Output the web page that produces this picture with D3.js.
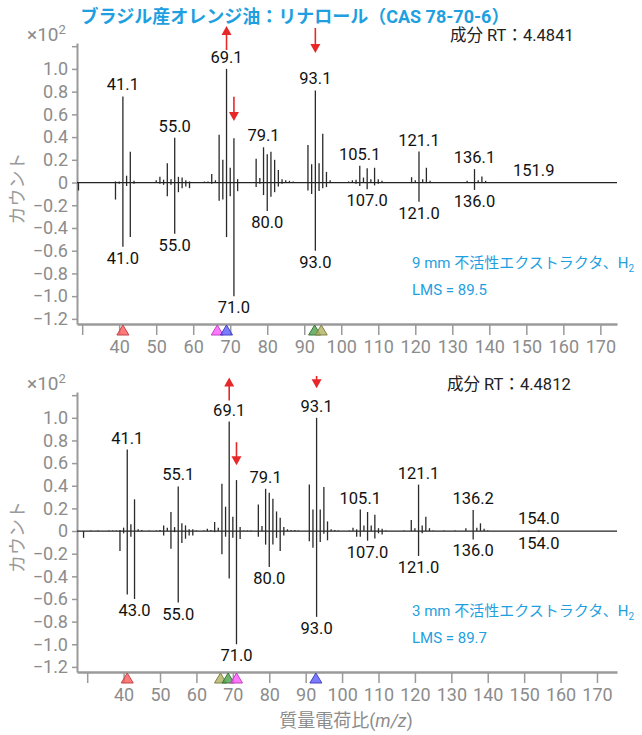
<!doctype html>
<html lang="ja">
<head>
<meta charset="utf-8">
<title>リナロール マススペクトル</title>
<script src="https://d3js.org/d3.v7.min.js"></script>
<style>
  body { margin: 0; background: #fff; }
  svg { display: block; font-family: Roboto, "Noto Sans CJK JP", sans-serif; }
</style>
</head>
<body>
<script>
// ---- data (×10^2 counts) ----
// top: 9 mm extractor
var topMz   = [29,31,32,36,38,39,40,41,42,43,44,45,47,49,50,51,52,53,54,55,56,57,58,59,60,61,62,63,64,65,66,67,68,69,70,71,72,73,74,75,77,78,79,80,81,82,83,84,85,86,87,88,89,90,91,92,93,94,95,96,97,98,99,101,102,103,104,105,106,107,108,109,110,111,112,113,115,117,119,120,121,122,123,124,125,127,131,134,135,136,137,138,139,140,152];
var topUp   = [0,0.005,0.004,0.004,0.005,0.01,0.01,0.758,0.06,0.27,0.015,0.005,0.004,0.005,0.02,0.05,0.025,0.17,0.03,0.394,0.05,0.045,0.02,0.01,0.005,0.004,0.004,0.01,0.01,0.076,0.02,0.42,0.2,1.0,0.13,0.39,0.03,0.005,0.004,0.005,0.21,0.04,0.31,0.25,0.27,0.2,0.11,0.03,0.02,0.015,0.01,0.005,0.005,0.005,0.33,0.16,0.81,0.17,0.43,0.094,0.02,0.005,0.004,0.004,0.01,0.02,0.025,0.147,0.044,0.125,0.03,0.13,0.03,0.015,0.005,0.004,0.004,0.005,0.047,0.02,0.273,0.03,0.13,0.015,0.005,0.004,0.005,0.015,0.005,0.118,0.02,0.053,0.015,0.005,0.005];
var topDown = [-0.07,0,0,0,0,-0.15,-0.01,-0.565,-0.03,-0.48,-0.01,0,0,0,0,-0.01,-0.02,-0.12,-0.02,-0.45,-0.085,-0.05,-0.035,-0.05,0,0,0,0,0,-0.01,0,-0.16,-0.15,-0.48,-0.12,-1.0,-0.076,0,0,0,-0.04,-0.01,-0.11,-0.25,-0.125,-0.085,-0.035,-0.01,0,0,0,0,0,0,-0.07,-0.1,-0.6,-0.074,-0.05,-0.04,0,0,0,0,0,0,-0.01,-0.03,0,-0.06,0,-0.025,-0.01,0,0,0,0,0,-0.005,0,-0.17,0,-0.005,0,0,0,0,0,0,-0.065,0,0,0,0,0];
var topUpLabels   = [[41,"41.1"],[55,"55.0"],[69,"69.1"],[79,"79.1"],[93,"93.1"],[105,"105.1"],[121,"121.1"],[136,"136.1"],[152,"151.9"]];
var topDownLabels = [[41,"41.0"],[55,"55.0"],[71,"71.0"],[80,"80.0"],[93,"93.0"],[107,"107.0"],[121,"121.0"],[136,"136.0"]];
var topMarkMz     = [41, 66.5, 69, 92.8, 94.6];
var topMarkColors = ["#ff5a5a","#ff55ff","#5a5aff","#4aa04a","#b0b060"];
var topArrows     = [[69,"up",1.166,1.378],[93,"down",1.36,1.14],[71,"down",0.754,0.542]];

// bottom: 3 mm extractor
var botMz   = [29,31,33,36,37,38,39,40,41,42,43,44,45,47,49,50,51,52,53,54,55,56,57,58,59,60,62,63,64,65,66,67,68,69,70,71,72,73,74,75,77,78,79,80,81,82,83,84,85,86,87,88,91,92,93,94,95,96,97,98,99,102,103,104,105,106,107,108,109,110,111,112,117,119,120,121,122,123,124,125,128,131,134,136,137,138,139,140,154];
var botUp   = [0,0.005,0.004,0.004,0.005,0.005,0.01,0.03,0.72,0.06,0.28,0.015,0.01,0.004,0.005,0.01,0.05,0.03,0.168,0.035,0.394,0.068,0.05,0.015,0.015,0.005,0.005,0.02,0.01,0.08,0.03,0.417,0.215,0.967,0.126,0.45,0.035,0.005,0.005,0.005,0.235,0.044,0.373,0.338,0.285,0.173,0.118,0.035,0.015,0.01,0.01,0.005,0.41,0.19,1.0,0.19,0.388,0.085,0.015,0.01,0.005,0.005,0.03,0.015,0.19,0.05,0.168,0.05,0.144,0.025,0.02,0.005,0.005,0.097,0.025,0.41,0.05,0.126,0.025,0.005,0.004,0.004,0.025,0.185,0.03,0.068,0.02,0.005,0.005];
var botDown = [-0.06,0,0,0,0,0,-0.176,-0.02,-0.56,-0.05,-0.6,0,0,0,0,0,-0.04,0,-0.156,-0.01,-0.632,-0.106,-0.068,-0.04,-0.04,0,0,0,0,-0.01,0,-0.206,-0.05,-0.42,-0.06,-1.0,-0.07,0,0,0,-0.05,0,-0.12,-0.317,-0.12,-0.06,-0.176,-0.04,0,0,0,0,-0.09,-0.147,-0.758,-0.097,-0.024,-0.082,0,0,0,0,0,-0.05,-0.05,0,-0.085,0,-0.065,-0.02,-0.03,0,0,0,0,-0.22,-0.02,0,0,0,0,0,0,-0.074,0,0,0,0,-0.005];
var botUpLabels   = [[41,"41.1"],[55,"55.1"],[69,"69.1"],[79,"79.1"],[93,"93.1"],[105,"105.1"],[121,"121.1"],[136,"136.2"],[154,"154.0"]];
var botDownLabels = [[43,"43.0"],[55,"55.0"],[71,"71.0"],[80,"80.0"],[93,"93.0"],[107,"107.0"],[121,"121.0"],[136,"136.0"],[154,"154.0"]];
var botMarkMz     = [41, 66.6, 68.7, 71, 92.8];
var botMarkColors = ["#ff5a5a","#b0b060","#4aa04a","#ff55ff","#5a5aff"];
var botArrows     = [[69,"up",1.153,1.355],[93,"down",1.37,1.262],[71,"down",0.785,0.58]];

var xTicks = [30,40,50,60,70,80,90,100,110,120,130,140,150,160,170];
var yTicks = [-1.2,-1.0,-0.8,-0.6,-0.4,-0.2,0,0.2,0.4,0.6,0.8,1.0,1.2];

var titleText = "ブラジル産オレンジ油：リナロール（CAS 78-70-6）";

// ---- layout ----
var w = 642, h = 735;
var left = 77, right = 617;
var gray = "#8c8c8c", blue = "#1ea0e0", red = "#e82828";

var svg = d3.select("body").append("svg")
  .attr("width", w)
  .attr("height", h);

svg.append("rect").attr("width", w).attr("height", h).attr("fill", "#fff");

svg.append("text")
  .attr("x", 295).attr("y", 23)
  .attr("text-anchor", "middle")
  .attr("font-size", 18).attr("font-weight", "bold")
  .attr("fill", blue)
  .text(titleText);

var panels = [
  {mz: topMz, up: topUp, down: topDown, upL: topUpLabels, downL: topDownLabels,
   marks: topMarkMz, markC: topMarkColors, arrows: topArrows,
   xdom: [28.6, 174.5], top: 43, bottom: 324, rtX: 450,
   rt: "成分 RT：4.4841", note: "9 mm 不活性エクストラクタ、H", lms: "LMS = 89.5"},
  {mz: botMz, up: botUp, down: botDown, upL: botUpLabels, downL: botDownLabels,
   marks: botMarkMz, markC: botMarkColors, arrows: botArrows,
   xdom: [27.2, 175.5], top: 392, bottom: 672, rtX: 447,
   rt: "成分 RT：4.4812", note: "3 mm 不活性エクストラクタ、H", lms: "LMS = 89.7"}
];

panels.forEach(function(p) {
  var g = svg.append("g");
  var x = d3.scaleLinear().domain(p.xdom).range([left, right]);
  var y = d3.scaleLinear().domain([-1.245, 1.228]).range([p.bottom, p.top]);

  // y axis
  var yAxis = d3.axisLeft(y)
    .tickValues(yTicks)
    .tickSize(5).tickSizeOuter(0).tickPadding(4)
    .tickFormat(function(d) {
      if (Math.abs(d - 1.2) < 1e-6) return "";
      if (d === 0) return "0";
      return d3.format(".1f")(d);
    });
  var ya = g.append("g").attr("transform", "translate(" + left + ",0)").call(yAxis);
  ya.select(".domain").attr("stroke", "#9a9a9a").attr("stroke-width", 2);
  ya.selectAll(".tick line").attr("stroke", "#9a9a9a").attr("stroke-width", 1.5);
  ya.selectAll(".tick text").attr("fill", gray).attr("font-size", 18)
    .attr("font-family", "Roboto, sans-serif");

  // x axis
  var xAxis = d3.axisBottom(x)
    .tickValues(xTicks)
    .tickSize(11).tickSizeOuter(0).tickPadding(5)
    .tickFormat(function(d) { return d === 30 ? "" : d; });
  var xa = g.append("g").attr("transform", "translate(0," + p.bottom + ")").call(xAxis);
  xa.select(".domain").attr("stroke", "#9a9a9a").attr("stroke-width", 2.5);
  xa.selectAll(".tick line").attr("stroke", "#9a9a9a").attr("stroke-width", 1.5);
  xa.selectAll(".tick text").attr("fill", gray).attr("font-size", 18)
    .attr("font-family", "Roboto, sans-serif");

  // ×10^2
  var mult = g.append("text")
    .attr("x", 27).attr("y", p.top - 2)
    .attr("fill", gray).attr("font-size", 19);
  mult.append("tspan").text("×10");
  mult.append("tspan").attr("dy", -7).attr("font-size", 13).text("2");

  // y label
  g.append("text")
    .attr("transform", "translate(24," + (y(0) + 6) + ") rotate(-90)")
    .attr("text-anchor", "middle")
    .attr("fill", "#9a9a9a").attr("font-size", 18)
    .text("カウント");

  // baseline
  g.append("line")
    .attr("x1", left).attr("x2", right)
    .attr("y1", y(0)).attr("y2", y(0))
    .attr("stroke", "#222").attr("stroke-width", 1.3);

  // bars
  var rows = p.mz.map(function(m, i) { return {mz: m, up: p.up[i], down: p.down[i]}; });
  g.selectAll(".up").data(rows.filter(function(d) { return d.up > 0; }))
    .enter().append("line")
    .attr("x1", function(d) { return x(d.mz); })
    .attr("x2", function(d) { return x(d.mz); })
    .attr("y1", y(0))
    .attr("y2", function(d) { return y(d.up); })
    .attr("stroke", "#2a2a2a").attr("stroke-width", 1.3);
  g.selectAll(".down").data(rows.filter(function(d) { return d.down < 0; }))
    .enter().append("line")
    .attr("x1", function(d) { return x(d.mz); })
    .attr("x2", function(d) { return x(d.mz); })
    .attr("y1", y(0))
    .attr("y2", function(d) { return y(d.down); })
    .attr("stroke", "#2a2a2a").attr("stroke-width", 1.3);

  var valAt = function(m, arr) { return arr[p.mz.indexOf(m)]; };

  // peak labels
  g.selectAll(".ul").data(p.upL).enter().append("text")
    .attr("x", function(d) { return x(d[0]); })
    .attr("y", function(d) { return y(valAt(d[0], p.up)) - 6; })
    .attr("text-anchor", "middle")
    .attr("font-size", 16.5).attr("fill", "#111")
    .text(function(d) { return d[1]; });
  g.selectAll(".dl").data(p.downL).enter().append("text")
    .attr("x", function(d) { return x(d[0]); })
    .attr("y", function(d) { return y(valAt(d[0], p.down)) + 17; })
    .attr("text-anchor", "middle")
    .attr("font-size", 16.5).attr("fill", "#111")
    .text(function(d) { return d[1]; });

  // red arrows
  p.arrows.forEach(function(a) {
    var ax = x(a[0]), y1 = y(a[2]), y2 = y(a[3]);
    var dir = y2 > y1 ? 1 : -1;
    g.append("line")
      .attr("x1", ax).attr("x2", ax)
      .attr("y1", y1).attr("y2", y2 - dir * 6)
      .attr("stroke", red).attr("stroke-width", 1.6);
    g.append("path")
      .attr("d", "M" + (ax - 5) + "," + (y2 - dir * 9) + "L" + (ax + 5) + "," + (y2 - dir * 9) + "L" + ax + "," + y2 + "Z")
      .attr("fill", red);
  });

  // compound markers on axis
  g.selectAll(".mk").data(p.marks).enter().append("path")
    .attr("d", function(d) {
      var cx = x(d), b = p.bottom + 11;
      return "M" + (cx - 6) + "," + b + "L" + (cx + 6) + "," + b + "L" + cx + "," + (p.bottom + 1) + "Z";
    })
    .attr("fill", function(d, i) { return p.markC[i]; })
    .attr("fill-opacity", 0.8)
    .attr("stroke", function(d, i) { return d3.color(p.markC[i]).darker(0.8); })
    .attr("stroke-width", 1);

  // RT
  g.append("text")
    .attr("x", p.rtX).attr("y", p.top - 2)
    .attr("font-size", 16.5).attr("fill", "#222")
    .text(p.rt);

  // notes
  var note = g.append("text")
    .attr("x", 412).attr("y", y(-0.75))
    .attr("font-size", 15).attr("fill", blue);
  note.append("tspan").text(p.note);
  note.append("tspan").attr("dy", 4).attr("font-size", 10).text("2");
  g.append("text")
    .attr("x", 412).attr("y", y(-0.99))
    .attr("font-size", 15).attr("fill", blue)
    .text(p.lms);
});

// x title
var xt = svg.append("text")
  .attr("x", 346).attr("y", 727)
  .attr("text-anchor", "middle")
  .attr("fill", gray).attr("font-size", 18);
xt.append("tspan").text("質量電荷比(");
xt.append("tspan").attr("font-style", "italic").text("m/z");
xt.append("tspan").text(")");
</script>
</body>
</html>
